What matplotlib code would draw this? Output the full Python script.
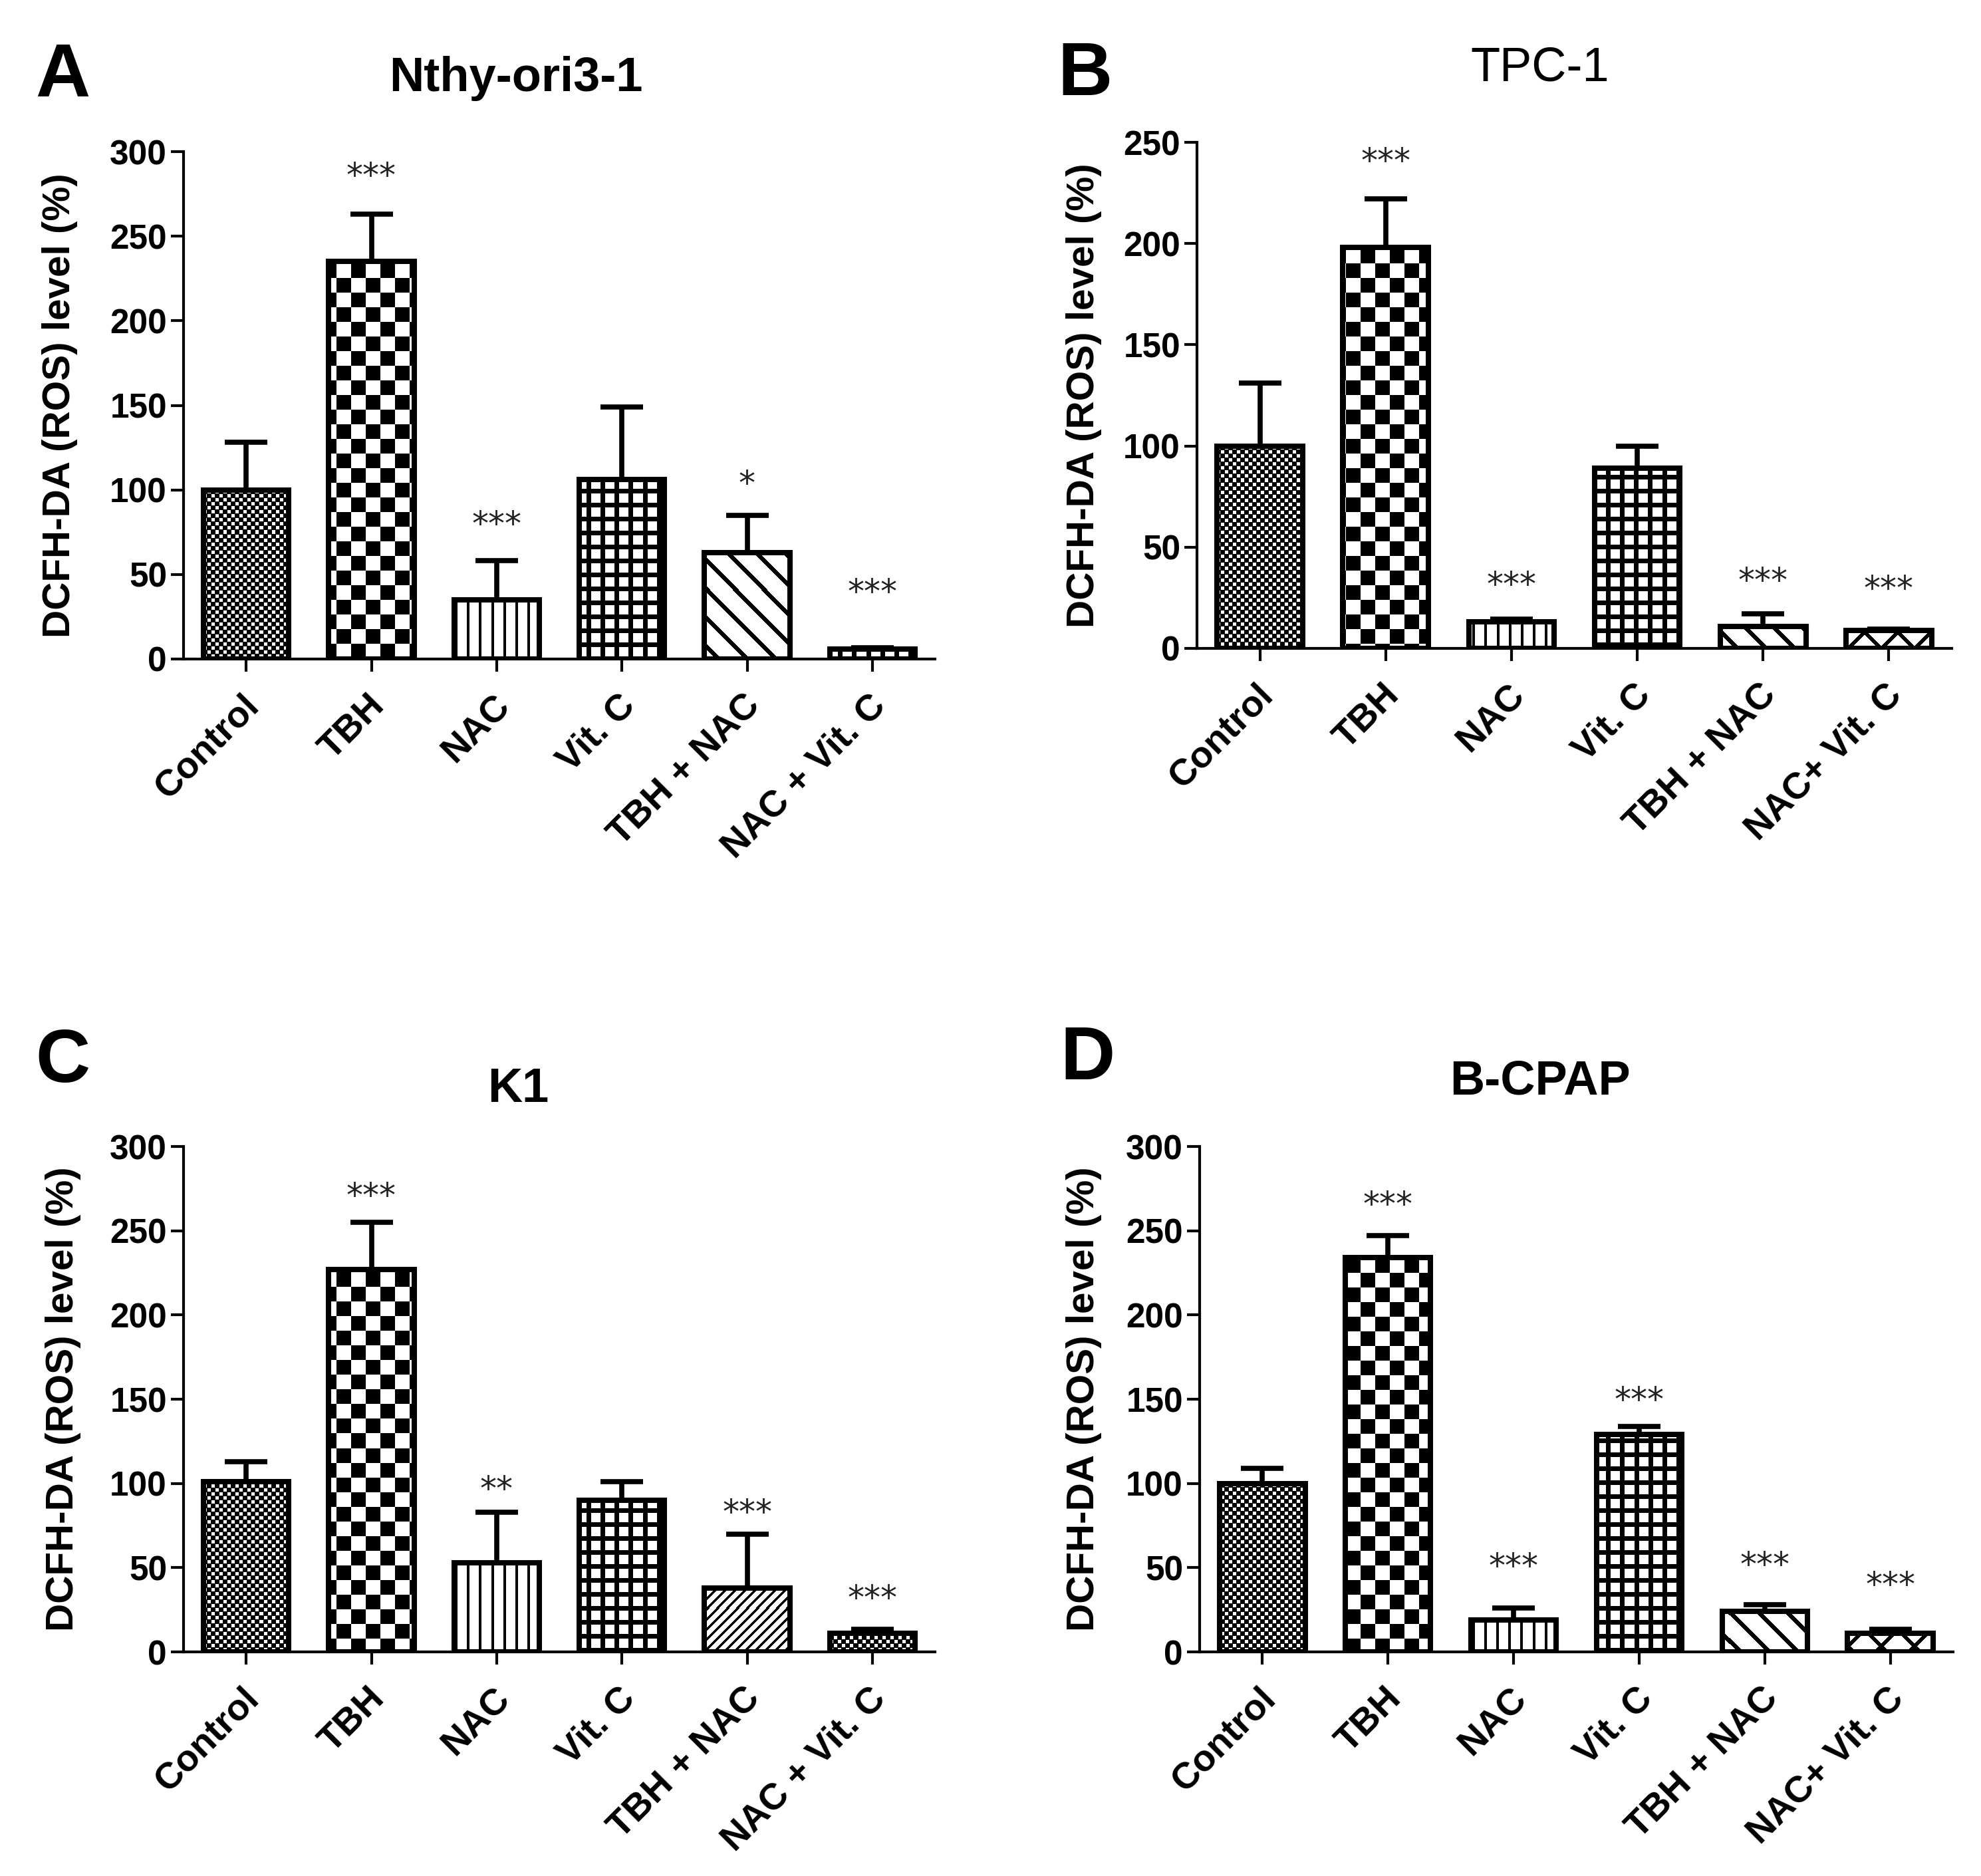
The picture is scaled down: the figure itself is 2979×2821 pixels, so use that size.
import numpy as np
import matplotlib
matplotlib.use('Agg')
import matplotlib.pyplot as plt
from matplotlib.transforms import ScaledTranslation

plt.rcParams['font.family'] = ['Liberation Sans', 'DejaVu Sans']
plt.rcParams['font.weight'] = 'bold'

# group labels (B and D print "NAC+ Vit. C" without the space)
labels_ac = ['Control', 'TBH', 'NAC', 'Vit. C', 'TBH + NAC', 'NAC + Vit. C']
labels_bd = ['Control', 'TBH', 'NAC', 'Vit. C', 'TBH + NAC', 'NAC+ Vit. C']

# A - Nthy-ori3-1
nthy_mean = [100, 235, 35, 106, 63, 6]
nthy_err = [28, 28, 23, 43, 22, 0.5]
nthy_sig = ['', '***', '***', '', '*', '***']
nthy_sig_y = [0, 285, 79, 0, 103, 39]

# B - TPC-1
tpc_mean = [100, 198, 13, 89, 11, 9]
tpc_err = [31, 24, 1.5, 11, 6, 0.5]
tpc_sig = ['', '***', '***', '', '***', '***']
tpc_sig_y = [0, 240, 31, 0, 33, 29]

# C - K1
k1_mean = [101, 227, 53, 90, 38, 11]
k1_err = [12, 28, 30, 11, 32, 2.5]
k1_sig = ['', '***', '**', '', '***', '***']
k1_sig_y = [0, 270, 96, 0, 82, 31]

# D - B-CPAP
bcpap_mean = [100, 234, 19, 129, 24, 11]
bcpap_err = [9, 13, 7, 5, 4, 2.5]
bcpap_sig = ['', '***', '***', '***', '***', '***']
bcpap_sig_y = [0, 265, 50, 149, 51, 39]

W, H = 2979, 2821
fig = plt.figure(figsize=(W / 100, H / 100), dpi=100)


def pattern_mask(kind, X, Y):  # X, Y are figure pixels, Y counted from the top
    if kind == 'fine':
        # small white dots on black, staggered like a checker
        white = ((X // 6 + Y // 6) % 2 == 1) & (X % 6 < 5) & (Y % 6 < 5)
        return ~white
    if kind == 'checker':
        return (X // 22 + Y // 22) % 2 == 0
    if kind == 'vert':
        return X % 18 < 4
    if kind == 'grid':
        return (X % 21 < 7) | (Y % 21 < 7)
    if kind == 'back':
        return (X - Y) % 43 < 9
    if kind == 'fwd':
        return (X + Y) % 15 < 5
    if kind == 'cross':
        return ((X - Y) % 50 < 8) | ((X + Y) % 50 < 8)
    return np.zeros_like(X, dtype=bool)


def fill_bar(ax, rect, kind):
    x0, y0 = rect.get_x(), rect.get_y()
    x1, y1 = x0 + rect.get_width(), y0 + rect.get_height()
    (px0, py0), (px1, py1) = ax.transData.transform([(x0, y0), (x1, y1)])
    c0, c1 = int(np.floor(px0)) - 2, int(np.ceil(px1)) + 2
    r0, r1 = int(np.floor(H - py1)) - 2, int(np.ceil(H - py0)) + 2
    X, Y = np.meshgrid(np.arange(c0, c1), np.arange(r0, r1))
    img = np.where(pattern_mask(kind, X, Y), 0, 255).astype(np.uint8)
    inv = ax.transData.inverted()
    dl, db = inv.transform((c0, H - r1))
    dr, dt = inv.transform((c1, H - r0))
    im = ax.imshow(img, cmap='gray', vmin=0, vmax=255, extent=(dl, dr, db, dt),
                   interpolation='nearest', aspect='auto', zorder=2)
    im.set_clip_path(rect)


def panel(rect, means, errs, sig, sig_y, ymax, labels, patterns,
          letter, title, title_weight, title_xy, letter_xy, ylabel_x):
    ax = fig.add_axes(rect)
    n = len(means)
    x = np.arange(n)
    ax.set_xlim(-0.5, n - 0.5)
    ax.set_ylim(0, ymax)
    ax.set_autoscale_on(False)

    bars = ax.bar(x, means, width=0.68, color='none', edgecolor='black',
                  linewidth=5.8, zorder=3)
    for b, kind in zip(bars, patterns):
        b.set_joinstyle('miter')
        fill_bar(ax, b, kind)

    ax.errorbar(x, means, yerr=[np.zeros(n), errs], fmt='none', ecolor='black',
                elinewidth=5.5, capsize=23, capthick=5.5, zorder=4)

    for xi, s, sy in zip(x, sig, sig_y):
        if s:
            ax.text(xi, sy, s, ha='center', va='center', fontsize=36,
                    family='DejaVu Sans', fontweight='normal', color='#222222',
                    zorder=5, clip_on=False)

    for side in ['top', 'right']:
        ax.spines[side].set_visible(False)
    for side in ['left', 'bottom']:
        ax.spines[side].set_linewidth(3)
    ax.set_yticks(np.arange(0, ymax + 1, 50))
    ax.tick_params(axis='both', length=14, width=3, labelsize=37)
    ax.tick_params(axis='y', pad=4)
    ax.tick_params(axis='x', pad=31, labelsize=40)
    ax.set_xticks(x)
    ax.set_xticklabels(labels, rotation=45, ha='right', va='center',
                       rotation_mode='anchor')
    shift = ScaledTranslation(0.12, 0, fig.dpi_scale_trans)
    for lbl in ax.get_xticklabels():
        lbl.set_transform(lbl.get_transform() + shift)

    yc = rect[1] + rect[3] / 2
    fig.text(ylabel_x / W, yc, 'DCFH-DA (ROS) level (%)', rotation=90,
             ha='center', va='center', fontsize=42)
    fig.text(title_xy[0] / W, 1 - title_xy[1] / H, title, ha='center',
             va='baseline', fontsize=52, fontweight=title_weight)
    fig.text(letter_xy[0] / W, 1 - letter_xy[1] / H, letter, ha='left',
             va='baseline', fontsize=82, fontweight='bold')
    return ax


panel([276 / W, 1 - 991 / H, 1130 / W, 763 / H], nthy_mean, nthy_err,
      nthy_sig, nthy_sig_y, 300, labels_ac,
      ['fine', 'checker', 'vert', 'grid', 'back', 'grid'],
      'A', 'Nthy-ori3-1', 'bold', (776, 137), (53, 145), 90)

panel([1800 / W, 1 - 975 / H, 1135 / W, 761 / H], tpc_mean, tpc_err,
      tpc_sig, tpc_sig_y, 250, labels_bd,
      ['fine', 'checker', 'vert', 'grid', 'back', 'cross'],
      'B', 'TPC-1', 'normal', (2316, 122), (1590, 143), 1630)

panel([276 / W, 1 - 2484 / H, 1130 / W, 760 / H], k1_mean, k1_err,
      k1_sig, k1_sig_y, 300, labels_ac,
      ['fine', 'checker', 'vert', 'grid', 'fwd', 'fine'],
      'C', 'K1', 'bold', (779, 1657), (53, 1627), 95)

panel([1804 / W, 1 - 2484 / H, 1133 / W, 760 / H], bcpap_mean, bcpap_err,
      bcpap_sig, bcpap_sig_y, 300, labels_bd,
      ['fine', 'checker', 'vert', 'grid', 'back', 'cross'],
      'D', 'B-CPAP', 'bold', (2316, 1646), (1594, 1623), 1630)

fig.savefig('out.png', dpi=100)
